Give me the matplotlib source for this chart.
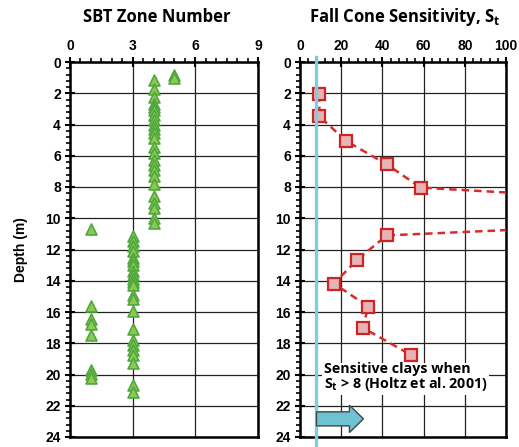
import matplotlib
matplotlib.use("Agg")
import matplotlib.pyplot as plt
from matplotlib.ticker import MultipleLocator
from matplotlib.patches import FancyArrow

# SBT zone number vs depth
sbt_zone = [5, 5,
            4, 4, 4, 4, 4, 4, 4, 4, 4, 4, 4, 4, 4, 4, 4, 4, 4, 4, 4, 4, 4, 4, 4, 4,
            1, 1, 1, 1, 1, 1, 1, 1,
            3, 3, 3, 3, 3, 3, 3, 3, 3, 3, 3, 3, 3, 3, 3, 3, 3, 3, 3, 3, 3, 3, 3]
sbt_depth = [0.85, 1.0,
             1.17, 1.7, 2.23, 2.66, 2.87, 3.1, 3.4, 3.72, 4.04, 4.26, 4.57, 4.89,
             5.43, 5.85, 6.28, 6.6, 6.9, 7.3, 7.8, 8.6, 9.0, 9.36, 10.0, 10.3,
             10.67, 15.64, 16.43, 16.75, 17.46, 19.7, 19.97, 20.24,
             11.14, 11.46, 11.79, 12.1, 12.54, 12.75, 12.96, 13.4, 13.6, 13.9,
             14.1, 14.3, 14.9, 15.15, 15.96, 17.1, 17.78, 18.1, 18.42, 18.74,
             19.24, 20.67, 21.1]

# fall cone sensitivity vs depth
st_value = [9.4, 9.4, 22.2, 42.1, 58.6, 280, 42.1, 27.8, 16.5, 33.2, 30.4, 53.9]
st_depth = [2.06, 3.47, 5.04, 6.55, 8.04, 9.7, 11.1, 12.65, 14.18, 15.66, 17.0, 18.75]

st_limit = 8

plt.rcParams['font.family'] = ['Liberation Sans', 'DejaVu Sans']
plt.rcParams['font.weight'] = 'bold'

fig = plt.figure(figsize=(5.19, 4.47), dpi=100)
ax1 = fig.add_axes([70/519, 10/447, 188/519, 375/447])
ax2 = fig.add_axes([300/519, 10/447, 206/519, 375/447])

def style(ax, xmax, xmajor, xminor):
    ax.set_xlim(0, xmax)
    ax.set_ylim(24, 0)
    ax.xaxis.set_major_locator(MultipleLocator(xmajor))
    ax.xaxis.set_minor_locator(MultipleLocator(xminor))
    ax.yaxis.set_major_locator(MultipleLocator(2))
    ax.yaxis.set_minor_locator(MultipleLocator(0.4))
    ax.xaxis.tick_top()
    ax.tick_params(which='major', direction='inout', length=7, width=1.5,
                   labelsize=10, pad=3)
    ax.tick_params(which='minor', direction='out', length=3, width=1.2)
    ax.tick_params(axis='x', which='both', top=True, bottom=False)
    for s in ax.spines.values():
        s.set_linewidth(1.8)
    ax.grid(True, which='major', color='#222222', lw=0.9)
    ax.set_axisbelow(True)
    for lab in ax.get_xticklabels() + ax.get_yticklabels():
        lab.set_fontweight('bold')

style(ax1, 9, 3, 0.5)
style(ax2, 100, 20, 4)

ax1.scatter(sbt_zone, sbt_depth, marker='^', s=62, facecolor='#8DC852',
            edgecolor='#4FA83D', linewidths=1.2, zorder=3)

ax2.plot(st_value, st_depth, ls='--', color='#D92B2B', lw=1.8, dashes=(3, 2),
         marker='s', ms=8.5, mfc='#E6B3B6', mec='#D02323', mew=1.6, zorder=3,
         clip_on=True)

ax2.plot([st_limit, st_limit], [-0.3, 24.8], color='#80CDE0', lw=2.4,
         clip_on=False, zorder=4)

ax2.add_patch(FancyArrow(st_limit, 22.84, 22.8, 0, width=0.9, head_width=1.75,
                         head_length=6.8, length_includes_head=True,
                         facecolor='#6EC3D2', edgecolor='#444444', lw=1.0,
                         zorder=5))

ax2.text(11.5, 20.2, 'Sensitive clays when\nS$_{\\mathregular{t}}$ > 8 (Holtz et al. 2001)',
         fontsize=10.3, family=['Open Sans', 'DejaVu Sans'], fontweight='bold',
         ha='left', va='center', linespacing=0.95, zorder=6,
         bbox=dict(facecolor='white', edgecolor='none', pad=1))

fig.text(157/519, 1 - 17/447, 'SBT Zone Number', ha='center', va='center',
         fontsize=12, family=['Open Sans', 'DejaVu Sans'], fontweight='bold')
fig.text(405/519, 1 - 17/447, 'Fall Cone Sensitivity, S$_{\\mathregular{t}}$',
         ha='center', va='center', fontsize=12,
         family=['Open Sans', 'DejaVu Sans'], fontweight='bold')

fig.text(21/519, 1 - 250/447, 'Depth (m)', rotation=90, ha='center',
         va='center', fontsize=10, fontweight='bold')

fig.savefig('out.png', dpi=100)
